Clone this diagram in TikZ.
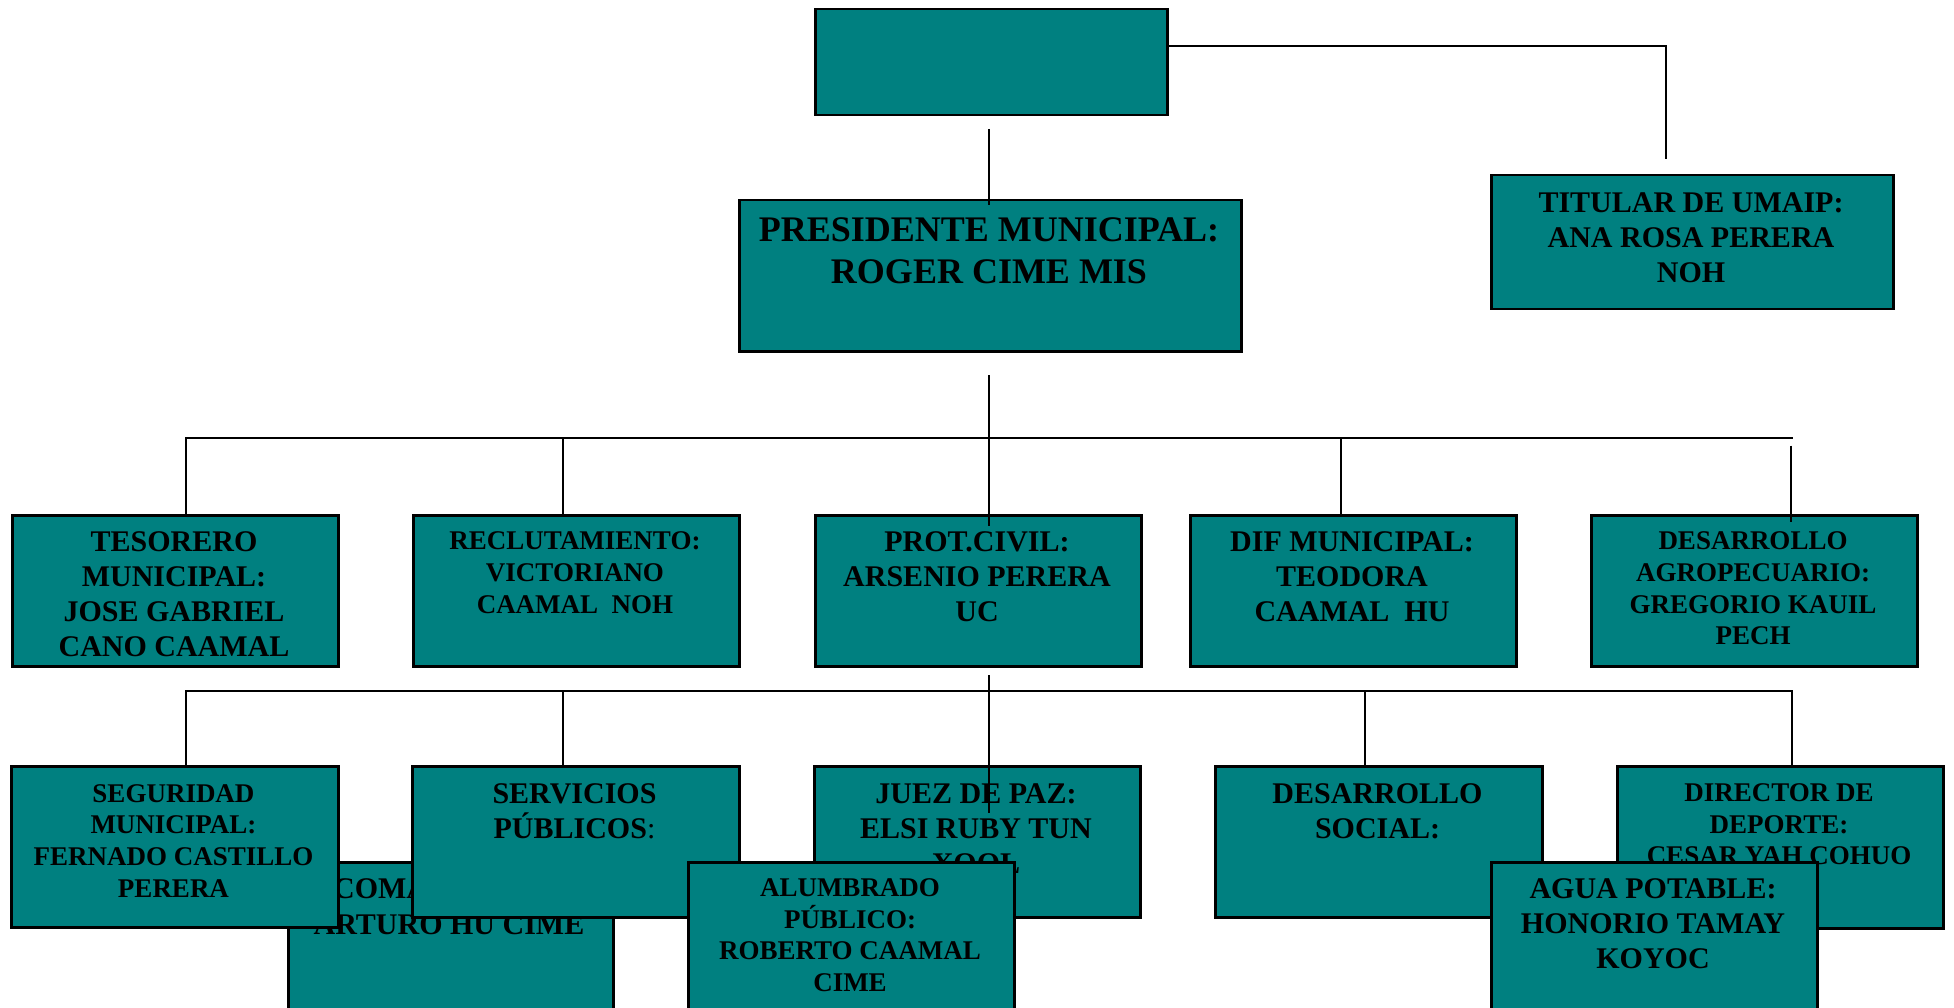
\documentclass[tikz,border=0pt]{standalone}
\usepackage{fontspec}
\setmainfont{Liberation Serif}
\definecolor{tealbox}{RGB}{0,128,128}
\tikzset{
  box/.style={draw=black, line width=2.5pt, fill=tealbox, inner sep=0pt, anchor=north west, minimum width=326pt},
  conn/.style={draw=black, line width=2pt},
  ttext/.style={anchor=north, inner sep=0pt, align=center, text=black},
  f36/.style={ttext, font=\bfseries\fontsize{36}{41.5}\selectfont},
  f30/.style={ttext, font=\bfseries\fontsize{30}{35}\selectfont},
  f27/.style={ttext, font=\bfseries\fontsize{27}{31.6}\selectfont},
}
\begin{document}
\begin{tikzpicture}[x=1pt,y=-1pt]
\useasboundingbox (0,0) rectangle (1954,1008);
\clip (0,0) rectangle (1954,1008);
\fill[white] (0,0) rectangle (1954,1008);

% top level
\node[box, minimum width=352pt, minimum height=106pt] (top) at (814,8) {};
\node[box, minimum width=502pt, minimum height=151pt] (pres) at (738,199) {};
\node[f36] (presT) at (989,217.6) {PRESIDENTE MUNICIPAL:\\ROGER CIME MIS};
\node[box, minimum width=402pt, minimum height=134pt] (tit) at (1490,174) {};
\node[f30] (titT) at (1691,192.6) {TITULAR DE UMAIP:\\ANA ROSA PERERA\\NOH};

% row 1
\node[box, minimum height=151pt] (tes) at (11,514) {};
\node[f30] (tesT) at (174,531.6) {TESORERO\\MUNICIPAL:\\JOSE GABRIEL\\CANO CAAMAL};
\node[box, minimum height=151pt] (rec) at (412,514) {};
\node[f27] (recT) at (575,531.9) {RECLUTAMIENTO:\\VICTORIANO\\CAAMAL\ \ NOH};
\node[box, minimum height=151pt] (prot) at (814,514) {};
\node[f30] (protT) at (977,531.6) {PROT.CIVIL:\\ARSENIO PERERA\\UC};
\node[box, minimum height=151pt] (dif) at (1189,514) {};
\node[f30] (difT) at (1352,531.6) {DIF MUNICIPAL:\\TEODORA\\CAAMAL\ \ HU};
\node[box, minimum height=151pt] (dea) at (1590,514) {};
\node[f27] (deaT) at (1753,531.9) {DESARROLLO\\AGROPECUARIO:\\GREGORIO KAUIL\\PECH};

% row 3 (behind)
\node[box, minimum width=325pt, minimum height=200pt] (coma) at (287,861) {};
\node[f30, font=\bfseries\fontsize{30}{36}\selectfont] (comaT) at (449,878.2) {COMANDANTE:\\ARTURO HU CIME};

% row 2
\node[box, minimum width=327pt, minimum height=161pt] (seg) at (10,765) {};
\node[f27] (segT) at (173.5,784.2) {SEGURIDAD\\MUNICIPAL:\\FERNADO CASTILLO\\PERERA};
\node[box, minimum width=327pt, minimum height=151pt] (serv) at (411,765) {};
\node[f30] (servT) at (574.5,783.2) {SERVICIOS\\PÚBLICOS{\mdseries:}};
\node[box, minimum height=151pt] (juez) at (813,765) {};
\node[f30] (juezT) at (976,783.2) {JUEZ DE PAZ:\\ELSI RUBY TUN\\XOOL};
\node[box, minimum width=327pt, minimum height=151pt] (dsoc) at (1214,765) {};
\node[f30] (dsocT) at (1377.5,783.2) {DESARROLLO\\SOCIAL:};
\node[box, minimum height=162pt] (dir) at (1616,765) {};
\node[f27] (dirT) at (1779,783.6) {DIRECTOR DE\\DEPORTE:\\CESAR YAH COHUO};

% row 3 (front)
\node[box, minimum height=200pt] (alum) at (687,861) {};
\node[f27] (alumT) at (850,878.6) {ALUMBRADO\\PÚBLICO:\\ROBERTO CAAMAL\\CIME};
\node[box, minimum height=200pt] (agua) at (1490,861) {};
\node[f30] (aguaT) at (1653,878.2) {AGUA POTABLE:\\HONORIO TAMAY\\KOYOC};

% connectors
\coordinate (r1) at (1666,46);
\coordinate (r2) at (1666,159);
\draw[conn] (top.north east |- r1) -- (r1) -- (r2);

\coordinate (p1) at (989,129);
\coordinate (p2) at (989,205);
\draw[conn] (p1) -- (p2);

\coordinate (q1) at (989,375);
\coordinate (q2) at (989,526);
\draw[conn] (q1) -- (q2);

\coordinate (h1L) at (185.6,438);
\coordinate (h1R) at (1792.6,438);
\draw[conn] (h1L |- tes.north) -- (h1L) -- (h1R);
\coordinate (h1b) at (562.5,438);
\draw[conn] (h1b) -- (h1b |- rec.north);
\coordinate (h1d) at (1340.5,438);
\draw[conn] (h1d) -- (h1d |- dif.north);
\coordinate (h1e1) at (1791.4,445.7);
\coordinate (h1e2) at (1791.4,521.7);
\draw[conn] (h1e1) -- (h1e2);

\coordinate (s1) at (989,675);
\coordinate (s2) at (989,813);
\draw[conn] (s1) -- (s2);

\coordinate (h2L) at (185.6,691);
\coordinate (h2R) at (1792,691);
\draw[conn] (h2L |- seg.north) -- (h2L) -- (h2R) -- (h2R |- dir.north);
\coordinate (h2b) at (562.5,691);
\draw[conn] (h2b) -- (h2b |- serv.north);
\coordinate (h2d) at (1364.7,691);
\draw[conn] (h2d) -- (h2d |- dsoc.north);
\end{tikzpicture}
\end{document}
